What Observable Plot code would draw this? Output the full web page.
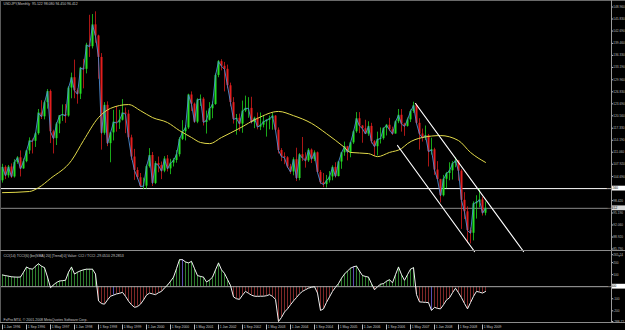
<!DOCTYPE html>
<html><head><meta charset="utf-8">
<script src="https://cdn.jsdelivr.net/npm/d3@7"></script>
<script src="https://cdn.jsdelivr.net/npm/@observablehq/plot@0.6"></script>
<style>
html,body{margin:0;padding:0;background:#000;}
#chart{position:relative;width:625px;height:330px;background:#000;overflow:hidden;}
#chart svg{display:block;position:absolute;left:0;overflow:visible;}
.ln{position:absolute;background:#8c8c8c;}
</style></head><body><div id="chart"></div>
<script>
// Monthly USDJPY bars, Jan 1996 .. Jun 2009 (bar index = position)
const open = [103.6,107.1,104.9,107.2,104.6,108.4,109.6,106.7,108.6,111.4,114.0,113.9,
115.9,121.3,120.3,124.0,126.9,116.4,114.6,118.4,120.6,120.9,120.5,127.8,
130.5,127.1,126.2,133.0,132.7,139.0,138.6,144.3,141.4,135.8,116.0,123.3,
113.3,116.1,118.9,118.7,119.4,121.3,121.0,114.8,109.8,106.3,104.4,102.1,
102.2,107.3,110.2,102.9,108.1,107.6,106.1,109.3,106.7,108.2,108.9,110.4,
114.4,116.4,117.4,126.0,123.6,118.9,124.7,124.9,118.8,119.4,122.4,123.5,
131.1,134.7,133.5,132.7,128.4,124.0,119.6,119.9,118.4,121.8,122.5,122.5,
118.8,119.9,117.6,118.1,119.0,119.4,119.8,120.5,116.8,111.5,109.9,109.6,
107.2,105.9,109.1,104.2,110.4,109.5,108.8,111.6,109.2,110.9,105.8,103.1,
102.6,103.6,104.6,107.1,104.7,108.5,110.9,112.5,111.0,113.5,116.4,119.8,
117.9,117.2,115.8,117.8,113.8,112.5,114.4,114.6,117.3,118.1,116.9,115.8,
119.0,120.7,118.4,117.8,119.5,121.7,123.2,118.6,115.8,114.8,115.4,111.2,
111.7,106.4,103.9,99.7,104.0,105.5,106.2,108.1,108.8,106.1,98.5,95.5,
90.6,89.9,97.6,98.0,98.6,95.12];
const high = [107.9,107.5,107.6,108.0,109.1,109.9,111.4,109.3,111.5,114.8,114.5,116.2,
122.2,124.5,124.4,127.4,127.3,116.8,118.8,120.0,123.4,123.5,128.2,131.7,
135.1,127.6,133.2,135.3,139.5,146.8,147.0,147.7,141.6,136.8,124.0,124.2,
116.2,122.0,123.0,122.0,124.8,122.6,122.0,115.5,111.8,107.0,105.5,104.3,
107.7,112.0,111.0,108.6,109.8,108.5,109.9,110.2,109.2,109.4,111.5,114.9,
119.3,118.0,126.2,126.8,123.9,125.0,126.0,125.3,121.8,124.0,124.2,131.5,
135.0,135.2,134.5,133.8,129.1,125.3,120.9,121.0,124.4,125.7,125.3,125.4,
120.2,121.3,121.3,120.6,119.5,120.5,121.2,120.6,117.4,112.0,110.9,109.9,
107.9,109.6,112.1,110.7,114.9,110.9,112.0,111.9,111.4,111.1,106.3,105.5,
105.0,106.0,107.5,108.3,108.6,111.0,113.7,112.6,113.6,116.6,121.4,121.4,
118.0,119.4,119.0,118.6,114.1,116.3,117.4,117.4,118.3,119.9,117.6,119.2,
122.2,122.2,118.6,120.0,122.1,124.1,123.6,119.8,117.1,117.9,115.7,114.7,
112.1,108.6,104.0,105.0,105.8,108.3,108.6,109.6,108.9,106.5,100.5,96.8,
91.3,98.1,99.7,101.4,99.3,98.08];
const low = [103.0,103.9,104.3,104.2,104.3,107.9,104.6,106.6,108.3,110.5,110.6,112.3,
115.5,119.6,119.5,122.3,113.3,110.6,112.8,115.9,119.1,118.6,120.2,125.0,
125.0,123.6,124.8,127.6,131.5,135.8,138.0,139.5,130.1,111.6,115.5,112.5,
108.3,114.0,116.3,117.0,119.2,115.9,114.4,108.9,103.7,103.9,101.8,101.3,
101.4,106.9,102.1,102.6,105.7,103.9,105.7,105.9,105.2,107.2,108.2,109.8,
114.1,114.0,117.0,121.7,118.6,118.5,123.0,117.9,115.8,119.2,119.8,123.3,
130.5,132.3,126.8,127.6,122.9,118.4,115.5,116.4,116.0,121.4,119.9,118.4,
117.2,116.9,116.7,117.4,115.0,116.9,116.8,116.5,110.6,108.6,107.8,106.8,
105.3,104.9,103.4,103.6,108.6,106.9,108.4,108.1,108.6,105.6,102.6,101.8,
101.7,103.0,103.6,104.3,104.6,106.6,110.0,108.8,109.6,113.1,116.0,115.9,
113.4,115.8,115.2,113.2,110.0,110.1,113.2,114.2,115.3,116.4,115.4,115.8,
118.5,116.3,115.2,117.6,118.8,121.2,118.3,111.6,113.7,114.1,107.2,110.3,
105.0,103.8,97.8,99.4,101.5,103.6,103.8,107.0,103.5,90.9,93.5,87.2,
87.1,87.9,93.6,96.5,94.4,94.45];
const close = [107.1,104.9,107.2,104.6,108.4,109.6,106.7,108.6,111.4,114.0,113.9,115.9,
121.3,120.3,124.0,126.9,116.4,114.6,118.4,120.6,120.9,120.5,127.8,130.5,
127.1,126.2,133.0,132.7,139.0,138.6,144.3,141.4,135.8,116.0,123.3,113.3,
116.1,118.9,118.7,119.4,121.3,121.0,114.8,109.8,106.3,104.4,102.1,102.2,
107.3,110.2,102.9,108.1,107.6,106.1,109.3,106.7,108.2,108.9,110.4,114.4,
116.4,117.4,126.0,123.6,118.9,124.7,124.9,118.8,119.4,122.4,123.5,131.1,
134.7,133.5,132.7,128.4,124.0,119.6,119.9,118.4,121.8,122.5,122.5,118.8,
119.9,117.6,118.1,119.0,119.4,119.8,120.5,116.8,111.5,109.9,109.6,107.2,
105.9,109.1,104.2,110.4,109.5,108.8,111.6,109.2,110.9,105.8,103.1,102.6,
103.6,104.6,107.1,104.7,108.5,110.9,112.5,111.0,113.5,116.4,119.8,117.9,
117.2,115.8,117.8,113.8,112.5,114.4,114.6,117.3,118.1,116.9,115.8,119.0,
120.7,118.4,117.8,119.5,121.7,123.2,118.6,115.8,114.8,115.4,111.2,111.7,
106.4,103.9,99.7,104.0,105.5,106.2,108.1,108.8,106.1,98.5,95.5,90.6,
89.9,97.6,98.0,98.6,95.12,96.41];

// CCI(14) per bar
const cci = [97,92,87,82,80,79,80,120,163,150,145,170,
190,170,158,80,-8,15,35,47,50,53,120,163,
105,120,132,140,145,145,145,105,-118,-140,-145,-110,
-79,-70,-60,-55,-47,-80,-120,-150,-171,-165,-145,-110,
-70,-53,-60,-66,-50,-39,-10,13,45,79,150,224,
224,205,197,210,150,92,85,79,39,55,79,140,
197,140,110,60,10,-85,-100,-105,-70,-39,-55,-70,
-79,-80,-79,-79,-75,-66,-80,-105,-289,-255,-210,-184,
-150,-118,-90,-60,-39,-25,-12,-5,0,-53,-197,-184,
-130,-85,-39,-5,26,70,105,130,153,165,171,130,
92,85,79,25,-26,0,20,26,45,58,32,100,
163,100,53,100,145,158,-66,-126,-128,-130,-132,-197,
-171,-180,-184,-150,-110,-92,-50,-13,-50,-92,-140,-184,
-132,-80,-39,-45,-53,-40];
const cciSignalBars = [37, 60, 117, 143];

// Long moving average (yellow) at these bars
const maBars = [0,9,12,16,23,27,32,36,42,46,50,55,59,63,66,69,73,79,85,92,97,103,108,114,116,122,125,129,133,135,140,146,152,156,161];
const maValues = [100.5,100.8,101.8,104.2,108.9,114.1,120.1,122.5,123.5,121.9,120.1,118.8,116.7,114.9,113.6,113.3,114.9,117.3,119.9,121.7,120.6,118.6,115.9,112.3,111.0,110.7,109.9,111.0,112.0,113.3,114.9,115.4,114.1,111.0,108.4];

// Down-channel trendlines (bar, price)
const channelBars = [[137.67, 173.67], [131.67, 157.33]];
const channelPrices = [[123.77, 85.14], [112.81, 85.14]];

const hLevel = 101.56;
const lastPrice = 96.412;
const priceTicks = [148.96,145.83,142.69,139.46,136.33,133.19,129.96,126.83,123.69,120.56,117.33,114.19,111.06,107.92,104.69,98.42,95.19,92.06,88.92,85.79];
const cciTicks = [265.24, 200, 100, -100, -200, -288.72];
const dateTickBars = [0,8,16,24,32,40,48,56,64,72,80,88,96,104,112,120,128,136,144,152,160];
const dateTickLabels = ["1 Jan 1996","1 Sep 1996","1 May 1997","1 Jan 1998","1 Sep 1998","1 May 1999","1 Jan 2000","1 Sep 2000","1 May 2001","1 Jan 2002","1 Sep 2002","1 May 2003","1 Jan 2004","1 Sep 2004","1 May 2005","1 Jan 2006","1 Sep 2006","1 May 2007","1 Jan 2008","1 Sep 2008","1 May 2009"];

const titleText = "USDJPY,Monthly  95.122 98.080 94.450 96.412";
const cciLabel = "CCI(14) TCCI(6) [be(SMA) 20] [Trend] 0] Value: CCI / TCCI -29.0510 29.2853";
const footerText = "FxPro MT4, \u00a9 2001-2008 MetaQuotes Software Corp.";

// ---------- build ----------
const bars = close.map((c, i) => ({i, o: open[i], h: high[i], l: low[i], c}));
const maPts = maBars.map((b, j) => ({i: b, v: maValues[j]}));
const channel = channelBars.flatMap((bs, k) => bs.map((b, j) => ({k, i: b, v: channelPrices[k][j]})));
const cciData = cci.map((v, i) => ({i, v}));
const sig = new Set(cciSignalBars);

const bull = "#22e022", bear = "#e41e1e";
const txt = "#bcbcbc";
const font = "'Liberation Sans', Arial, sans-serif";
const xDom = [-2/3, 203];
const baseStyle = {background: "transparent", color: txt, fontFamily: font, overflow: "visible"};
const axFont = 3.2;

const main = Plot.plot({
  width: 625, height: 251,
  marginLeft: 0, marginRight: 14, marginTop: 0, marginBottom: 0,
  style: baseStyle,
  x: {domain: xDom, axis: null},
  y: {domain: [85.14, 150.66], axis: null},
  marks: [
    Plot.ruleY([hLevel], {stroke: "#ffffff", strokeWidth: 1}),
    Plot.ruleY([lastPrice], {stroke: "#8a8a8a", strokeWidth: 1}),
    Plot.ruleX(bars, {x: "i", y1: "l", y2: "h", stroke: d => d.c >= d.o ? bull : bear, strokeWidth: 1, strokeOpacity: 0.75}),
    Plot.ruleX(bars, {x: "i", y1: "o", y2: "c", stroke: d => d.c >= d.o ? bull : bear, strokeWidth: 2}),
    Plot.line(bars, {x: "i", y: "c", stroke: "#4d8fd6", strokeWidth: 0.9}),
    Plot.line(maPts, {x: "i", y: "v", stroke: "#e2da4a", strokeWidth: 1, curve: "monotone-x"}),
    Plot.line(channel, {x: "i", y: "v", z: "k", stroke: "#ffffff", strokeWidth: 1.2}),
    Plot.axisY({anchor: "right", ticks: priceTicks, tickFormat: d3.format(".3f"), tickSize: 1.2, tickPadding: 0.5, fontSize: axFont, color: txt}),
    Plot.text([titleText], {frameAnchor: "top-left", dx: 3, dy: 2.2, fill: "#c8c8c8", fontSize: 3.5, textAnchor: "start"})
  ]
});

const cciPlot = Plot.plot({
  width: 625, height: 79,
  marginLeft: 0, marginRight: 14, marginTop: 3.2, marginBottom: 9,
  style: baseStyle,
  x: {domain: xDom, axis: null},
  y: {domain: [-288.72, 265.24], axis: null},
  marks: [
    Plot.ruleX(cciData, {x: "i", y1: 0, y2: "v", stroke: d => sig.has(d.i) ? "#5b4fb0" : d.v >= 0 ? "#2f7d2f" : "#7d2828", strokeWidth: 1}),
    Plot.ruleY([0], {stroke: "#a8a8a8", strokeWidth: 1}),
    Plot.line(cciData, {x: "i", y: "v", stroke: "#f2f2f2", strokeWidth: 1}),
    Plot.axisY({anchor: "right", ticks: cciTicks, tickFormat: d => Number.isInteger(d) ? String(d) : d.toFixed(2), tickSize: 1.2, tickPadding: 0.5, fontSize: axFont, color: txt}),
    Plot.text([cciLabel], {frameAnchor: "top-left", dx: 3, dy: 0, fill: "#c8c8c8", fontSize: 3.5, textAnchor: "start"}),
    Plot.text([footerText], {frameAnchor: "bottom-left", dx: 3, dy: -0.6, fill: "#c8c8c8", fontSize: 3.5, textAnchor: "start"})
  ]
});

const datePlot = Plot.plot({
  width: 625, height: 7,
  marginLeft: 0, marginRight: 14, marginTop: 0, marginBottom: 0,
  style: baseStyle,
  x: {domain: xDom, axis: null},
  marks: [
    Plot.tickX(dateTickBars, {x: d => d, stroke: txt, insetTop: 1.5, insetBottom: 0.5}),
    Plot.text(dateTickBars, {x: d => d, text: (d, j) => dateTickLabels[j], frameAnchor: "middle", textAnchor: "start", dx: 1.2, fill: "#c8c8c8", fontSize: 3.4})
  ]
});

const root = document.getElementById("chart");
main.style.top = "0px";
cciPlot.style.top = "251px";
datePlot.style.top = "323px";
root.appendChild(main);
root.appendChild(cciPlot);
root.appendChild(datePlot);

// value boxes on the price scales
function addBox(fig, value, label, bg) {
  const yy = fig.scale("y").apply(value);
  const s = d3.select(fig);
  s.append("rect").attr("x", 611.5).attr("y", yy - 2.4).attr("width", 13.5).attr("height", 4.8).attr("fill", bg);
  s.append("text").attr("x", 612.3).attr("y", yy).attr("dy", "0.36em").attr("font-size", axFont)
    .attr("font-family", font).attr("fill", "#000").text(label);
}
addBox(main, hLevel, "101.560", "#ffffff");
addBox(main, lastPrice, "96.412", "#d8d8d8");
addBox(cciPlot, 0, "0.000", "#ffffff");

// window frame lines
function line(x, y, w, h, c) {
  const d = document.createElement("div");
  d.className = "ln";
  Object.assign(d.style, {left: x + "px", top: y + "px", width: w + "px", height: h + "px"});
  if (c) d.style.background = c;
  root.appendChild(d);
}
line(0, 0, 625, 1, "#6a6a6a");
line(0, 0, 1, 323, "#5a5a5a");
line(611, 0, 1, 323, "#9a9a9a");
line(0, 250, 625, 1, "#8c8c8c");
line(0, 322, 625, 1, "#8c8c8c");
</script></body></html>
